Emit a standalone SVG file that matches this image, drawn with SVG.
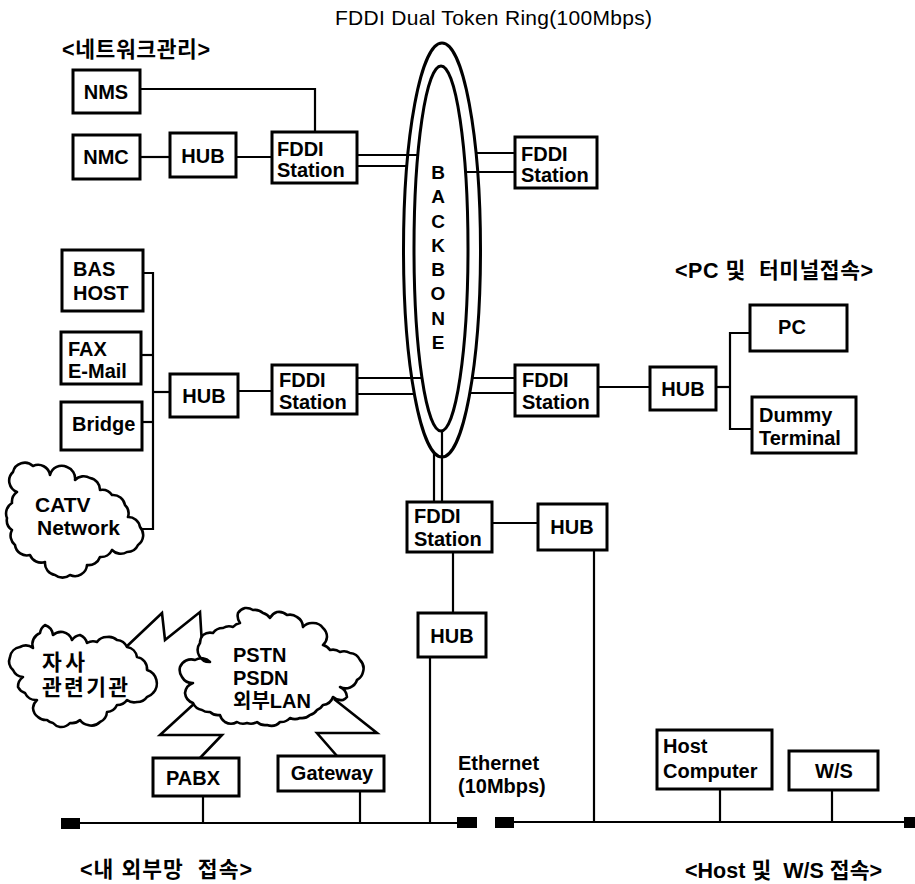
<svg xmlns="http://www.w3.org/2000/svg" width="915" height="884" viewBox="0 0 915 884">
<style>
.box{fill:#fff;stroke:#000;stroke-width:3}
.ln{fill:none;stroke:#000;stroke-width:2.2}
.ring{fill:#fff;stroke:#000;stroke-width:3}
.cloud{fill:#fff;stroke:#000;stroke-width:2.6;stroke-linejoin:round}
.bolt{fill:none;stroke:#000;stroke-width:2.6;stroke-linejoin:miter}
.term{fill:#000}
text{font-family:"Liberation Sans","Noto Sans CJK KR",sans-serif;fill:#000}
.t{font-size:20px;font-weight:bold}
.c{text-anchor:middle}
.k{font-size:21.5px;font-weight:bold;white-space:pre}
.title{font-size:21px}
.bb{font-size:19px;font-weight:bold;text-anchor:middle}
</style>
<rect width="915" height="884" fill="#fff"/>

<text class="title" x="335" y="25" textLength="317" lengthAdjust="spacing">FDDI Dual Token Ring(100Mbps)</text>
<text class="k" x="62" y="57" textLength="148" lengthAdjust="spacing">&lt;네트워크관리&gt;</text>
<text class="k" x="675" y="278" textLength="198" lengthAdjust="spacing" xml:space="preserve">&lt;PC 및  터미널접속&gt;</text>
<text class="k" x="80" y="877" textLength="172" lengthAdjust="spacing" xml:space="preserve">&lt;내 외부망  접속&gt;</text>
<text class="k" x="685" y="878" textLength="197" lengthAdjust="spacing" xml:space="preserve">&lt;Host 및  W/S 접속&gt;</text>

<g id="ring">
<ellipse class="ring" cx="442" cy="250" rx="38.5" ry="207"/>
<ellipse class="ring" cx="441" cy="248.5" rx="27" ry="182.5"/>
<text class="bb" x="438" y="179">B</text>
<text class="bb" x="438" y="203">A</text>
<text class="bb" x="438" y="228">C</text>
<text class="bb" x="438" y="252">K</text>
<text class="bb" x="438" y="276">B</text>
<text class="bb" x="438" y="300">O</text>
<text class="bb" x="438" y="325">N</text>
<text class="bb" x="438" y="349">E</text>
</g>

<g id="connectors">
<polyline class="ln" points="140,89 315,89 315,132"/>
<line class="ln" x1="140" y1="157" x2="170" y2="157"/>
<line class="ln" x1="236" y1="157" x2="272" y2="157"/>
<line class="ln" x1="357" y1="155" x2="418" y2="155"/>
<line class="ln" x1="357" y1="166" x2="406.5" y2="166"/>
<line class="ln" x1="476" y1="153" x2="515" y2="153"/>
<line class="ln" x1="465" y1="172" x2="515" y2="172"/>
<polyline class="ln" points="143,273 153,273 153,529 142,529"/>
<line class="ln" x1="141" y1="355" x2="153" y2="355"/>
<line class="ln" x1="142" y1="422" x2="153" y2="422"/>
<line class="ln" x1="153" y1="392" x2="170" y2="392"/>
<line class="ln" x1="238" y1="391" x2="272" y2="391"/>
<line class="ln" x1="357" y1="378" x2="422" y2="378"/>
<line class="ln" x1="357" y1="394" x2="414" y2="394"/>
<line class="ln" x1="472" y1="378" x2="515" y2="378"/>
<line class="ln" x1="470" y1="393" x2="515" y2="393"/>
<line class="ln" x1="598" y1="387" x2="650" y2="387"/>
<line class="ln" x1="716" y1="387" x2="730" y2="387"/>
<polyline class="ln" points="750,333 730,333 730,429 752,429"/>
<line class="ln" x1="434" y1="452" x2="434" y2="502"/>
<line class="ln" x1="442" y1="431" x2="442" y2="502"/>
<line class="ln" x1="492" y1="523" x2="538" y2="523"/>
<line class="ln" x1="453" y1="552" x2="453" y2="613"/>
<line class="ln" x1="430" y1="657" x2="430" y2="823"/>
<line class="ln" x1="594" y1="550" x2="594" y2="822"/>
<line class="ln" x1="203" y1="796" x2="203" y2="823"/>
<line class="ln" x1="360" y1="791" x2="360" y2="823"/>
<line class="ln" x1="720" y1="789" x2="720" y2="822"/>
<line class="ln" x1="832" y1="790" x2="832" y2="822"/>
<line class="ln" x1="80" y1="823" x2="457" y2="823"/>
<line class="ln" x1="514" y1="822" x2="904" y2="822"/>
<rect class="term" x="61" y="818" width="19" height="11"/>
<rect class="term" x="457" y="817" width="20" height="11"/>
<rect class="term" x="495" y="817" width="19" height="11"/>
<rect class="term" x="904" y="817" width="11" height="11"/>
<polyline class="bolt" points="124,649 162,613 165,640 200,612 202,645"/>
<polyline class="bolt" points="196,702 160,735 222,735 200,758"/>
<polyline class="bolt" points="334,699 377,733 317,733 337,756"/>
</g>

<g id="nms"><rect class="box" x="73" y="70" width="67" height="43"/><text class="t c" x="106" y="99">NMS</text></g>
<g id="nmc"><rect class="box" x="73" y="135" width="67" height="44"/><text class="t c" x="106" y="164">NMC</text></g>
<g id="hub1"><rect class="box" x="170" y="133" width="66" height="44"/><text class="t c" x="203" y="163">HUB</text></g>
<g id="fddi1"><rect class="box" x="272" y="132" width="85" height="51"/><text class="t" x="277" y="156">FDDI</text><text class="t" x="277" y="177">Station</text></g>
<g id="fddi2"><rect class="box" x="515" y="137" width="82" height="51"/><text class="t" x="521" y="161">FDDI</text><text class="t" x="521" y="182">Station</text></g>

<g id="bashost"><rect class="box" x="62" y="250" width="81" height="61"/><text class="t" x="73" y="276">BAS</text><text class="t" x="73" y="300">HOST</text></g>
<g id="faxmail"><rect class="box" x="61" y="332" width="80" height="52"/><text class="t" x="68" y="356">FAX</text><text class="t" x="68" y="378">E-Mail</text></g>
<g id="bridge"><rect class="box" x="61" y="402" width="81" height="48"/><text class="t" x="72" y="431">Bridge</text></g>
<g id="hub2"><rect class="box" x="170" y="374" width="68" height="43"/><text class="t c" x="204" y="403">HUB</text></g>
<g id="fddi3"><rect class="box" x="272" y="365" width="85" height="49"/><text class="t" x="279" y="387">FDDI</text><text class="t" x="279" y="409">Station</text></g>
<g id="fddi4"><rect class="box" x="515" y="365" width="83" height="51"/><text class="t" x="522" y="387">FDDI</text><text class="t" x="522" y="409">Station</text></g>
<g id="hub3"><rect class="box" x="650" y="367" width="66" height="43"/><text class="t c" x="683" y="396">HUB</text></g>
<g id="pc"><rect class="box" x="750" y="305" width="97" height="46"/><text class="t c" x="792" y="334">PC</text></g>
<g id="dummy"><rect class="box" x="752" y="397" width="104" height="56"/><text class="t" x="759" y="422">Dummy</text><text class="t" x="759" y="445">Terminal</text></g>

<g id="catv"><path class="cloud" d="M13,472 A12,12 0 0 1 33,466 A12,12 0 0 1 50,475 A12,12 0 0 1 67,467 A12,12 0 0 1 75,480 A12,12 0 0 1 90,478 A12,12 0 0 1 100,490 A12,12 0 0 1 112,495 A12,12 0 0 1 125,505 A12,12 0 0 1 128,517 A12,12 0 0 1 140,527 A12,12 0 0 1 138,545 A12,12 0 0 1 127,552 A12,12 0 0 1 112,550 A12,12 0 0 1 100,557 A12,12 0 0 1 87,565 A12,12 0 0 1 70,575 A12,12 0 0 1 55,575 A12,12 0 0 1 45,562 A12,12 0 0 1 30,555 A12,12 0 0 1 15,545 A12,12 0 0 1 12,530 A12,12 0 0 1 7,518 A12,12 0 0 1 12,503 A12,12 0 0 1 17,492 A12,12 0 0 1 13,472 Z"/><text class="t" x="35" y="512" style="font-size:21px">CATV</text><text class="t" x="37" y="535" style="font-size:21px">Network</text></g>

<g id="fddi5"><rect class="box" x="407" y="502" width="85" height="50"/><text class="t" x="414" y="523">FDDI</text><text class="t" x="414" y="546">Station</text></g>
<g id="hub4"><rect class="box" x="538" y="504" width="69" height="46"/><text class="t c" x="572" y="534">HUB</text></g>
<g id="hub5"><rect class="box" x="418" y="613" width="68" height="44"/><text class="t c" x="452" y="643">HUB</text></g>

<g id="jasa"><path class="cloud" d="M10,657 A12,12 0 0 1 20,647 A12,12 0 0 1 33,648 A12,12 0 0 1 40,633 A12,12 0 0 1 45,625 A12,12 0 0 1 53,635 A12,12 0 0 1 63,632 A12,12 0 0 1 72,640 A12,12 0 0 1 80,635 A12,12 0 0 1 87,643 A12,12 0 0 1 97,642 A12,12 0 0 1 107,637 A12,12 0 0 1 117,640 A12,12 0 0 1 127,647 A12,12 0 0 1 137,657 A12,12 0 0 1 147,670 A14,14 0 0 1 153,693 A12,12 0 0 1 147,697 A12,12 0 0 1 137,702 A12,12 0 0 1 127,700 A12,12 0 0 1 117,705 A12,12 0 0 1 107,712 A12,12 0 0 1 100,722 A12,12 0 0 1 88,725 A12,12 0 0 1 80,720 A12,12 0 0 1 70,723 A12,12 0 0 1 60,727 A12,12 0 0 1 53,723 A12,12 0 0 1 47,720 A12,12 0 0 1 38,717 A12,12 0 0 1 33,708 A12,12 0 0 1 37,700 A12,12 0 0 1 25,693 A12,12 0 0 1 18,687 A12,12 0 0 1 23,677 A12,12 0 0 1 13,670 A12,12 0 0 1 10,657 Z"/><text class="k" x="42" y="670" textLength="43" lengthAdjust="spacing">자사</text><text class="k" x="42" y="695" textLength="86" lengthAdjust="spacing">관련기관</text></g>

<g id="pstn"><path class="cloud" d="M200,643 A12,12 0 0 0 210,662 A12,12 0 0 0 195,660 A12,12 0 0 0 180,667 A12,12 0 0 0 182,677 A12,12 0 0 0 193,683 A12,12 0 0 0 185,693 A12,12 0 0 0 193,703 A12,12 0 0 0 202,710 A12,12 0 0 0 210,712 A12,12 0 0 0 220,715 A12,12 0 0 0 225,722 A12,12 0 0 0 237,722 A12,12 0 0 0 247,723 A12,12 0 0 0 257,722 A12,12 0 0 0 267,725 A12,12 0 0 0 280,722 A12,12 0 0 0 290,718 A12,12 0 0 0 300,718 A12,12 0 0 0 310,715 A12,12 0 0 0 317,710 A12,12 0 0 0 323,705 A12,12 0 0 0 333,697 A12,12 0 0 0 343,700 A12,12 0 0 0 347,697 A12,12 0 0 0 340,687 A12,12 0 0 0 357,680 A12,12 0 0 0 363,672 A12,12 0 0 0 360,660 A12,12 0 0 0 350,653 A12,12 0 0 0 340,652 A12,12 0 0 0 330,650 A12,12 0 0 0 323,645 A12,12 0 0 0 327,637 A12,12 0 0 0 323,628 A12,12 0 0 0 313,623 A12,12 0 0 0 303,627 A12,12 0 0 0 297,617 A12,12 0 0 0 287,615 A12,12 0 0 0 277,612 A12,12 0 0 0 270,618 A12,12 0 0 0 263,613 A12,12 0 0 0 253,610 A12,12 0 0 0 245,608 A12,12 0 0 0 238,613 A12,12 0 0 0 240,623 A12,12 0 0 0 233,627 A12,12 0 0 0 223,628 A12,12 0 0 0 213,633 A12,12 0 0 0 203,635 A12,12 0 0 0 200,643 Z"/><text class="t" x="233" y="662">PSTN</text><text class="t" x="233" y="685">PSDN</text><text class="t" x="233" y="708">외부LAN</text></g>

<g id="pabx"><rect class="box" x="153" y="758" width="86" height="38"/><text class="t c" x="193" y="785">PABX</text></g>
<g id="gateway"><rect class="box" x="278" y="756" width="106" height="35"/><text class="t c" x="332" y="780">Gateway</text></g>
<g id="ethernet-label"><text class="t" x="458" y="770">Ethernet</text><text class="t" x="458" y="793">(10Mbps)</text></g>
<g id="host"><rect class="box" x="657" y="730" width="115" height="59"/><text class="t" x="663" y="753">Host</text><text class="t" x="663" y="778">Computer</text></g>
<g id="ws"><rect class="box" x="789" y="751" width="89" height="39"/><text class="t c" x="834" y="778">W/S</text></g>
</svg>
